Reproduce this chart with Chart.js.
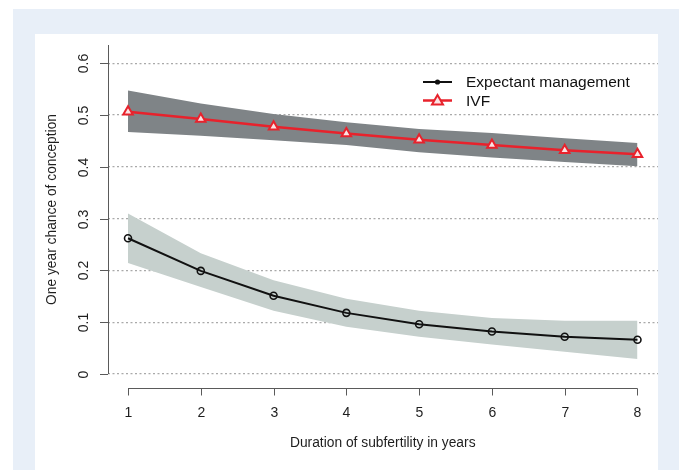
<!DOCTYPE html>
<html>
<head>
<meta charset="utf-8">
<script src="https://cdn.jsdelivr.net/npm/chart.js@4.4.0/dist/chart.umd.min.js"></script>
<style>
  html, body { margin: 0; padding: 0; background: #fff; }
  canvas { display: block; }
</style>
</head>
<body>
<canvas id="grafico" width="682" height="470"></canvas>
<script>
// dados
var anos = [1, 2, 3, 4, 5, 6, 7, 8];
var expectante = [0.262, 0.199, 0.151, 0.118, 0.096, 0.082, 0.072, 0.066];
var expectanteSup = [0.310, 0.233, 0.181, 0.145, 0.122, 0.108, 0.103, 0.103];
var expectanteInf = [0.214, 0.168, 0.122, 0.091, 0.072, 0.057, 0.043, 0.029];
var ivf = [0.506, 0.492, 0.477, 0.464, 0.452, 0.442, 0.432, 0.424];
var ivfSup = [0.547, 0.522, 0.502, 0.486, 0.473, 0.465, 0.455, 0.446];
var ivfInf = [0.467, 0.460, 0.451, 0.442, 0.428, 0.418, 0.409, 0.401];
var yTicks = [0, 0.1, 0.2, 0.3, 0.4, 0.5, 0.6];
var yLabels = ["0", "0.1", "0.2", "0.3", "0.4", "0.5", "0.6"];
var xTicks = [1, 2, 3, 4, 5, 6, 7, 8];
var series = ["Expectant management", "IVF"];

var fonte = '"Liberation Sans", Arial, sans-serif';
var vermelho = '#e8222c';

pontos = (ys) => anos.map((x, i) => ({ x: x, y: ys[i] }));

var fundo = {
	id: 'fundo',
	beforeDraw: (chart) => {
		var c = chart.ctx;
		c.save();
		c.fillStyle = '#ffffff';
		c.fillRect(0, 0, chart.width, chart.height);
		c.fillStyle = '#e8eff8';
		c.fillRect(13, 9, 666, chart.height - 9);
		c.fillStyle = '#ffffff';
		c.fillRect(35, 34, 623, chart.height - 34);
		c.restore();
	}
};

var eixos = {
	id: 'eixos',
	afterDatasetsDraw: (chart) => {
		var c = chart.ctx;
		var a = chart.chartArea;
		var xs = chart.scales.x, ys = chart.scales.y;
		c.save();
		c.strokeStyle = '#5a5a5a';
		c.lineWidth = 1;
		c.fillStyle = '#1e1e1e';
		c.font = '14px ' + fonte;

		// eixo y
		var y0 = ys.getPixelForValue(0);
		c.beginPath();
		c.moveTo(a.left + 0.5, a.top);
		c.lineTo(a.left + 0.5, y0);
		c.stroke();
		for (var i = 0; i < yTicks.length; i++) {
			var py = Math.round(ys.getPixelForValue(yTicks[i])) + 0.5;
			c.beginPath();
			c.moveTo(a.left - 8, py);
			c.lineTo(a.left, py);
			c.stroke();
			c.save();
			c.translate(a.left - 24, py);
			c.rotate(-Math.PI / 2);
			c.textAlign = 'center';
			c.textBaseline = 'middle';
			c.fillText(yLabels[i], 0, 0);
			c.restore();
		}

		// eixo x
		var yx = a.bottom + 14.5;
		c.beginPath();
		c.moveTo(xs.getPixelForValue(xTicks[0]), yx);
		c.lineTo(xs.getPixelForValue(xTicks[xTicks.length - 1]), yx);
		c.stroke();
		c.textAlign = 'center';
		c.textBaseline = 'middle';
		for (var j = 0; j < xTicks.length; j++) {
			var px = Math.round(xs.getPixelForValue(xTicks[j])) + 0.5;
			c.beginPath();
			c.moveTo(px, yx);
			c.lineTo(px, yx + 7);
			c.stroke();
			c.fillText(String(xTicks[j]), px, yx + 25);
		}

		// títulos
		c.font = '13.8px ' + fonte;
		c.fillText('Duration of subfertility in years', (xs.getPixelForValue(1) + xs.getPixelForValue(8)) / 2, yx + 55);
		c.save();
		c.translate(52, (a.top + y0) / 2);
		c.rotate(-Math.PI / 2);
		c.fillText('One year chance of conception', 0, 0);
		c.restore();
		c.restore();
	},
	afterDraw: (chart) => {
		// legenda
		var c = chart.ctx;
		c.save();
		c.font = '15.5px ' + fonte;
		c.textBaseline = 'middle';
		c.fillStyle = '#111';
		var linhas = [82, 100.5];
		var cores = ['#111', vermelho];
		for (var i = 0; i < series.length; i++) {
			var ly = linhas[i];
			c.strokeStyle = cores[i];
			c.lineWidth = i === 0 ? 2 : 2.5;
			c.beginPath();
			c.moveTo(423, ly);
			c.lineTo(452, ly);
			c.stroke();
			if (i === 0) {
				c.fillStyle = '#111';
				c.beginPath();
				c.arc(437.5, ly, 2.6, 0, Math.PI * 2);
				c.fill();
			} else {
				c.fillStyle = '#fbe3e4';
				c.lineWidth = 2;
				c.beginPath();
				c.moveTo(437.5, ly - 5.5);
				c.lineTo(443, ly + 4);
				c.lineTo(432, ly + 4);
				c.closePath();
				c.fill();
				c.stroke();
			}
			c.fillStyle = '#111';
			c.fillText(series[i], 466, ly + 1);
		}
		c.restore();
	}
};

var grafico = new Chart(document.getElementById('grafico'), {
	type: 'line',
	data: {
		datasets: [
			{
				label: series[0],
				data: pontos(expectante),
				borderColor: '#111',
				borderWidth: 2,
				pointStyle: 'circle',
				pointRadius: 3.5,
				pointBorderWidth: 1.6,
				pointBorderColor: '#111',
				pointBackgroundColor: 'rgba(0,0,0,0)',
				fill: false,
				tension: 0
			},
			{
				label: series[1],
				data: pontos(ivf),
				borderColor: vermelho,
				borderWidth: 2.5,
				pointStyle: 'triangle',
				pointRadius: 5.5,
				pointBorderWidth: 2,
				pointBorderColor: vermelho,
				pointBackgroundColor: '#fbe3e4',
				fill: false,
				tension: 0
			},
			{
				label: 'ivf sup',
				data: pontos(ivfSup),
				borderWidth: 0,
				pointRadius: 0,
				backgroundColor: '#7f8487',
				fill: '+1'
			},
			{
				label: 'ivf inf',
				data: pontos(ivfInf),
				borderWidth: 0,
				pointRadius: 0,
				fill: false
			},
			{
				label: 'exp sup',
				data: pontos(expectanteSup),
				borderWidth: 0,
				pointRadius: 0,
				backgroundColor: '#c6d0cd',
				fill: '+1'
			},
			{
				label: 'exp inf',
				data: pontos(expectanteInf),
				borderWidth: 0,
				pointRadius: 0,
				fill: false
			}
		]
	},
	options: {
		responsive: false,
		animation: false,
		layout: { padding: { left: 108, right: 24, top: 45, bottom: 96 } },
		plugins: {
			legend: { display: false },
			tooltip: { enabled: false }
		},
		scales: {
			x: {
				type: 'linear',
				display: false,
				min: 0.725,
				max: 8.282
			},
			y: {
				type: 'linear',
				min: 0,
				max: 0.635,
				afterBuildTicks: (s) => { s.ticks = yTicks.map((v) => ({ value: v })); },
				ticks: { display: false },
				border: { display: false, dash: [2, 2.5] },
				grid: { drawTicks: false, color: '#a9a9a9', lineWidth: 1.2 }
			}
		}
	},
	plugins: [fundo, eixos]
});
</script>
</body>
</html>
